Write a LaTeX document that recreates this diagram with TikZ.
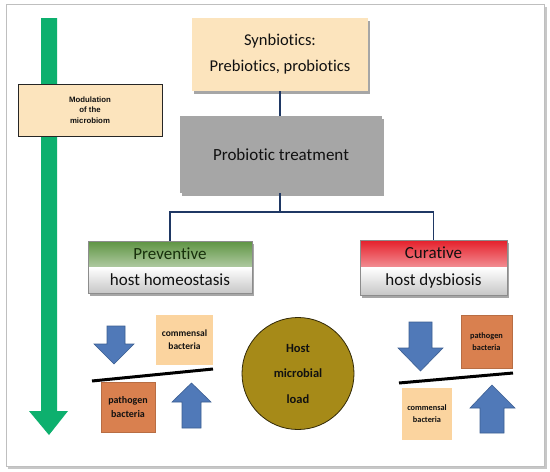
\documentclass[tikz,border=0pt]{standalone}
\usepackage{fontspec}
\setmainfont{Carlito}[Ligatures={NoCommon}]
\newfontfamily\arialfont{Liberation Sans}
\usetikzlibrary{shadows}
\definecolor{peach}{HTML}{FCE4BD}
\definecolor{lightor}{HTML}{FBD49F}
\definecolor{pathc}{HTML}{D9804F}
\definecolor{graybox}{HTML}{A6A6A6}
\definecolor{navy}{HTML}{1F3864}
\definecolor{bluef}{HTML}{5079B8}
\definecolor{bluel}{HTML}{3C5F92}
\definecolor{greenarr}{HTML}{0DB06E}
\definecolor{olive}{HTML}{A68A18}
\definecolor{gtop}{HTML}{5E9442}
\definecolor{rtop}{HTML}{E51F2A}
\definecolor{txt}{HTML}{111111}
\tikzset{
  conn/.style={draw=navy, line width=1.2pt},
  shad/.style={drop shadow={shadow xshift=2pt, shadow yshift=-2.5pt, opacity=0.35, fill=black}},
  mainbox/.style={rectangle, inner sep=0pt, align=center, text=txt, font=\fontsize{16.5}{26}\selectfont},
  gradbox/.style 2 args={mainbox, draw=black!45, line width=0.6pt, shad,
    path picture={
      \shade[top color=#1, bottom color=white] (path picture bounding box.north west) rectangle (path picture bounding box.east);
      \shade[top color=white, bottom color=black!22] (path picture bounding box.west) rectangle (path picture bounding box.south east);
    }, text=#2},
  smallbox/.style={rectangle, inner sep=0pt, align=center, text=txt, font=\bfseries\fontsize{9}{13}\selectfont},
  bluearrow/.style={fill=bluef, draw=bluel, line width=0.6pt, line join=miter},
  seesaw/.style={draw=black, line width=3pt}
}
\begin{document}
\begin{tikzpicture}[x=1pt,y=-1pt]
\useasboundingbox (0,0) rectangle (550,472);
% outer frame
\fill[black!22] (8,7) rectangle (547,469);
\draw[black!25, fill=white, line width=0.8pt] (6,4) rectangle (544,466);
% green arrow
\fill[greenarr] (41,18) -- (57,18) -- (57,411) -- (68,411) -- (49,435) -- (29,411) -- (41,411) -- cycle;
% modulation box
\node[rectangle, draw=black!85, line width=0.7pt, fill=peach, minimum width=144pt, minimum height=52pt, inner sep=0pt, align=center, text=txt, font=\arialfont\bfseries\fontsize{7.8}{10.5}\selectfont] (mod) at (90,110) {Modulation\\of the\\microbiom};
% top boxes
\node[mainbox, fill=peach, shad, minimum width=176pt, minimum height=73pt] (syn) at (280,54.5) {Synbiotics:\\Prebiotics, probiotics};
\node[mainbox, fill=graybox, shad, minimum width=202pt, minimum height=77pt, font=\fontsize{17}{26}\selectfont] (treat) at (281,154.5) {Probiotic treatment};
\node[gradbox={gtop}{txt}, minimum width=164pt, minimum height=52pt, font=\fontsize{17}{26}\selectfont] (prev) at (170,267) {\textcolor[HTML]{18300C}{Preventive}\\host homeostasis};
\node[gradbox={rtop}{txt}, minimum width=147pt, minimum height=55pt, font=\fontsize{17}{27}\selectfont] (cur) at (433.5,267.5) {Curative\\host dysbiosis};
% connectors
\coordinate (j) at (280,212);
\draw[conn] (syn.south) -- (syn.south |- treat.north);
\draw[conn] (treat.south -| j) -- (j);
\draw[conn] (prev.north) |- (j) -| (cur.north);
% circle
\node[circle, fill=olive, draw=black!70!olive, line width=0.8pt, minimum size=112pt, inner sep=0pt, align=center, text=txt, font=\bfseries\fontsize{12.5}{25.5}\selectfont] (load) at (298,373.5) {Host\\microbial\\load};
% left balance
\draw[bluearrow] (107,326) -- (125,326) -- (125,344) -- (134,344) -- (114,364) -- (94,344) -- (107,344) -- cycle;
\draw[bluearrow] (182,428) -- (201,428) -- (201,402) -- (211,402) -- (191.5,383) -- (172,402) -- (182,402) -- cycle;
\node[smallbox, fill=lightor, minimum width=57pt, minimum height=50pt, font=\bfseries\fontsize{9.5}{13}\selectfont] (comL) at (184.5,340) {commensal\\bacteria};
\node[smallbox, fill=pathc, draw=pathc!85!black, line width=0.5pt, minimum width=54pt, minimum height=50pt, font=\bfseries\fontsize{10}{14}\selectfont] (patL) at (128,407) {pathogen\\bacteria};
\coordinate (sl1) at (92,381);
\coordinate (sl2) at (213,369);
\draw[seesaw] (sl1) -- (sl2);
% right balance
\draw[bluearrow] (409,322) -- (432,322) -- (432,348) -- (443,348) -- (420.5,371) -- (398,348) -- (409,348) -- cycle;
\draw[bluearrow] (480,433) -- (504,433) -- (504,408) -- (515,408) -- (492,385) -- (470,408) -- (480,408) -- cycle;
\node[smallbox, fill=pathc, draw=pathc!85!black, line width=0.5pt, minimum width=51pt, minimum height=53pt, font=\bfseries\fontsize{8.3}{12}\selectfont] (patR) at (486.5,341.5) {pathogen\\bacteria};
\node[smallbox, fill=lightor, minimum width=50pt, minimum height=52pt, font=\bfseries\fontsize{8.3}{12}\selectfont] (comR) at (427,414) {commensal\\bacteria};
\coordinate (sr1) at (399,383);
\coordinate (sr2) at (513,373);
\draw[seesaw] (sr1) -- (sr2);
\end{tikzpicture}
\end{document}
